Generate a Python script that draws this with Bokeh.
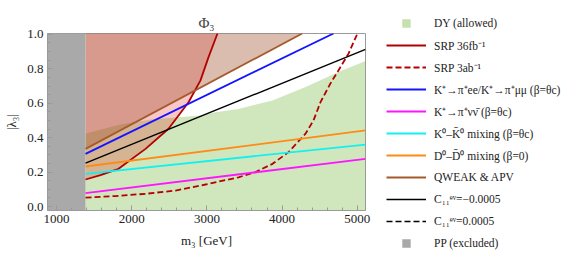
from bokeh.plotting import figure
from bokeh.models import Range1d, FixedTicker, Legend, LegendItem
from bokeh.embed import file_html
from bokeh.resources import INLINE
import numpy as np

# ---------------- data ----------------
X_MIN, X_MAX = 880, 5110
Y_MIN, Y_MAX = -0.023, 1.005
PP_EDGE = 1386          # PP excluded below this mass

x_ticks = [1000, 2000, 3000, 4000, 5000]
x_tick_labels = ["1000", "2000", "3000", "4000", "5000"]
y_ticks = [0.0, 0.2, 0.4, 0.6, 0.8, 1.0]
y_tick_labels = ["0.0", "0.2", "0.4", "0.6", "0.8", "1.0"]

# DY allowed region (upper boundary)
dy_m   = [1386, 1851, 2250, 2915, 3115, 3421, 3873, 4312, 4751, 5110]
dy_lam = [0.424, 0.477, 0.506, 0.529, 0.547, 0.567, 0.616, 0.694, 0.781, 0.845]

# SRP 36 fb^-1 (excluded above)
srp36_m   = [1386, 1585, 1825, 2184, 2490, 2756, 2915, 3022, 3141]
srp36_lam = [0.157, 0.183, 0.219, 0.335, 0.452, 0.606, 0.733, 0.868, 1.005]

# SRP 3 ab^-1
srp3_m   = [1386, 1785, 2184, 2583, 2982, 3421, 3647, 3873, 4086, 4312, 4418,
            4511, 4644, 4777, 4884, 5003]
srp3_lam = [0.052, 0.061, 0.074, 0.093, 0.128, 0.170, 0.200, 0.248, 0.316,
            0.423, 0.500, 0.606, 0.715, 0.810, 0.888, 1.005]

# straight bounds
kee_m,   kee_lam   = [1386, 4684], [0.306, 1.005]
knn_m,   knn_lam   = [1386, 5110], [0.0775, 0.277]
k0_m,    k0_lam    = [1386, 5110], [0.190, 0.360]
d0_m,    d0_lam    = [1386, 5110], [0.2326, 0.442]
qw_m,    qw_lam    = [1386, 4268], [0.335, 1.005]
cneg_m,  cneg_lam  = [1386, 5110], [0.252, 0.913]

# ---------------- styles ----------------
SERIF = "Liberation Serif"
GREEN, GREEN_A = "#7cbd4a", 0.36
RED_FILL, RED_A = "#e80000", 0.22
BROWN_FILL, BROWN_A = "#a0522d", 0.38
GRAY = "#a9a9a9"
LW = 1.8
line_styles = {
    "srp36": dict(line_color="#b30000", line_width=LW),
    "srp3": dict(line_color="#b30000", line_width=LW, line_dash="6 3"),
    "kee": dict(line_color="#1414ff", line_width=LW),
    "knn": dict(line_color="#ff14ff", line_width=LW),
    "k0": dict(line_color="#14f0f0", line_width=LW),
    "d0": dict(line_color="#ff8a14", line_width=LW),
    "qw": dict(line_color="#a65a2c", line_width=LW),
    "cneg": dict(line_color="black", line_width=1.4),
    "cpos": dict(line_color="black", line_width=1.4, line_dash="6 3"),
}

# ---------------- figure ----------------
p = figure(frame_width=318, frame_height=177, output_backend="svg",
           toolbar_location=None,
           x_range=Range1d(X_MIN, X_MAX), y_range=Range1d(Y_MIN, Y_MAX),
           min_border_left=47, min_border_right=216, min_border_top=33,
           min_border_bottom=53, title="Φ₃")
p.title.text_font = SERIF
p.title.text_font_size = "15px"
p.title.text_font_style = "normal"
p.title.align = "center"
p.title.standoff = 6
p.grid.visible = False
p.outline_line_color = "#9a9a9a"

p.varea(x=dy_m, y1=[Y_MIN] * len(dy_m), y2=dy_lam,
        fill_color=GREEN, fill_alpha=GREEN_A)
p.varea(x=srp36_m, y1=srp36_lam, y2=[Y_MAX] * len(srp36_m),
        fill_color=RED_FILL, fill_alpha=RED_A)
p.varea(x=qw_m, y1=qw_lam, y2=[Y_MAX] * len(qw_m),
        fill_color=BROWN_FILL, fill_alpha=BROWN_A)
p.quad(left=[X_MIN], right=[PP_EDGE], bottom=[Y_MIN], top=[Y_MAX],
       fill_color=GRAY, line_color=None)

r = {}
r["srp36"] = p.line(srp36_m, srp36_lam, **line_styles["srp36"])
r["srp3"] = p.line(srp3_m, srp3_lam, **line_styles["srp3"])
r["kee"] = p.line(kee_m, kee_lam, **line_styles["kee"])
r["knn"] = p.line(knn_m, knn_lam, **line_styles["knn"])
r["k0"] = p.line(k0_m, k0_lam, **line_styles["k0"])
r["d0"] = p.line(d0_m, d0_lam, **line_styles["d0"])
r["qw"] = p.line(qw_m, qw_lam, **line_styles["qw"])
r["cneg"] = p.line(cneg_m, cneg_lam, **line_styles["cneg"])
NAN = [np.nan]
r["cpos"] = p.line(NAN, NAN, **line_styles["cpos"])
r["dy"] = p.scatter(NAN, NAN, marker="square", fill_color="#c6e0ae",
                    line_color=None)
r["pp"] = p.scatter(NAN, NAN, marker="square", fill_color=GRAY,
                    line_color=None)
r["gap"] = p.line(NAN, NAN, line_alpha=0)

# ---------------- axes ----------------
def style_axis(ax, ticks, labels, minor):
    ax.ticker = FixedTicker(ticks=ticks, minor_ticks=minor)
    ax.major_label_overrides = {t: l for t, l in zip(ticks, labels)}
    ax.axis_line_color = "#9a9a9a"
    ax.major_tick_line_color = "#9a9a9a"
    ax.minor_tick_line_color = "#9a9a9a"
    ax.major_tick_in = 5
    ax.major_tick_out = 0
    ax.minor_tick_in = 3
    ax.minor_tick_out = 0
    ax.major_label_text_font = SERIF
    ax.major_label_text_font_size = "13px"
    ax.major_label_text_color = "#222222"
    ax.major_label_standoff = 4
    ax.axis_label_text_font = SERIF
    ax.axis_label_text_font_size = "13px"
    ax.axis_label_text_font_style = "normal"
    ax.axis_label_text_color = "#222222"

x_minor = list(range(800, 5201, 200))
y_minor = [round(v, 2) for v in np.arange(-0.05, 1.051, 0.05)]

style_axis(p.xaxis[0], x_ticks, x_tick_labels, x_minor)
p.xaxis[0].axis_label = "m₃ [GeV]"
p.xaxis[0].axis_label_standoff = 7
style_axis(p.yaxis[0], y_ticks, y_tick_labels, y_minor)
p.yaxis[0].axis_label = "|λ₃|"
p.yaxis[0].axis_label_standoff = 5

# ---------------- legend ----------------
legend_labels = [
    ("gap", " "),
    ("dy", "DY (allowed)"),
    ("srp36", "SRP 36fb⁻¹"),
    ("srp3", "SRP 3ab⁻¹"),
    ("kee", "K⁺→π⁺ee/K⁺→π⁺μμ (β=θc)"),
    ("knn", "K⁺→π⁺νν̄ (β=θc)"),
    ("k0", "K⁰–K̄⁰ mixing (β=θc)"),
    ("d0", "D⁰–D̄⁰ mixing (β=0)"),
    ("qw", "QWEAK & APV"),
    ("cneg", "C₁₁ᵉᵛ=−0.0005"),
    ("cpos", "C₁₁ᵉᵛ=0.0005"),
    ("pp", "PP (excluded)"),
]
legend = Legend(items=[LegendItem(label=t, renderers=[r[k]]) for k, t in legend_labels],
                location="left", orientation="vertical",
                padding=0, margin=21, spacing=1,
                glyph_width=40, glyph_height=21, label_height=21,
                label_standoff=8, border_line_color=None,
                background_fill_alpha=0.0,
                label_text_font=SERIF, label_text_font_size="11.5px",
                label_text_color="#222222")
p.add_layout(legend, "right")

open("out.html", "w").write(file_html(p, INLINE))
